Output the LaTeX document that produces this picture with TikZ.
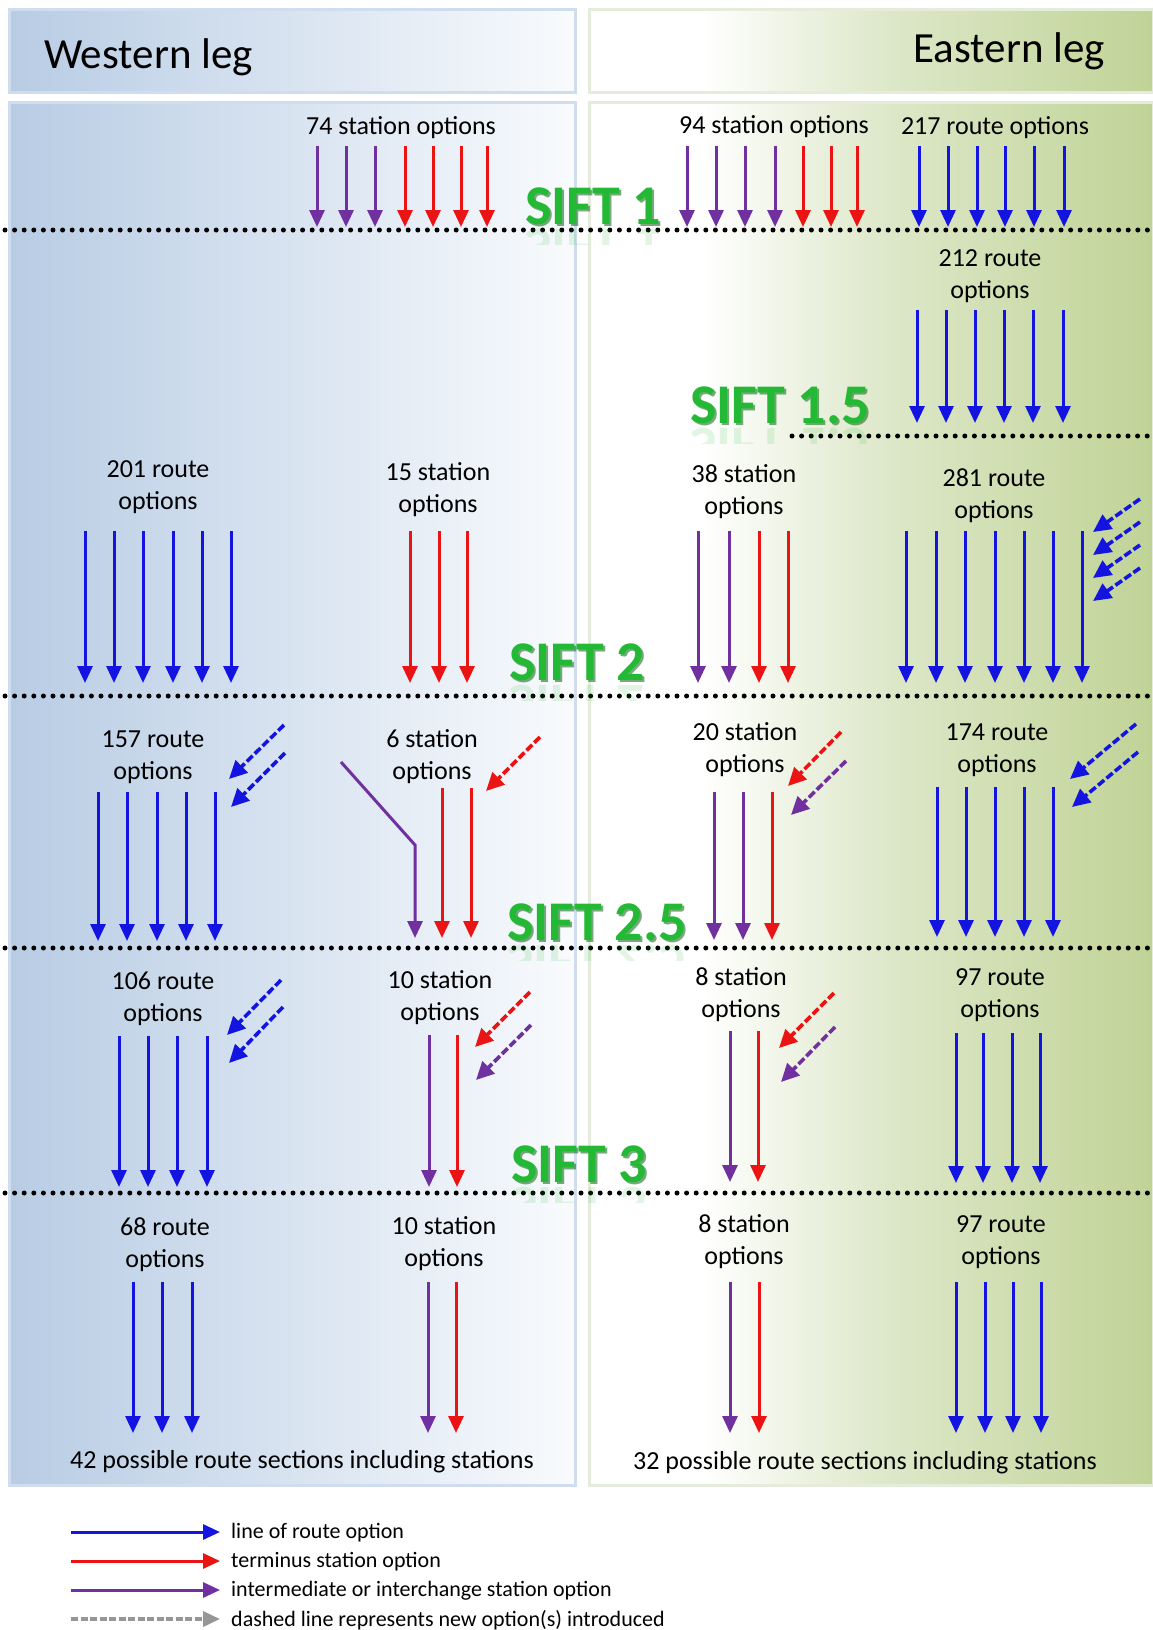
\documentclass[tikz,border=0pt]{standalone}
\usepackage{fontspec}
\setmainfont{Carlito}
\usetikzlibrary{arrows.meta}
\definecolor{rblue}{RGB}{20,20,225}
\definecolor{rred}{RGB}{235,20,20}
\definecolor{rpurple}{RGB}{112,48,160}
\definecolor{siftg}{RGB}{36,185,52}
\definecolor{siftd}{RGB}{10,100,20}
\definecolor{wblue}{RGB}{184,204,228}
\definecolor{wwhite}{RGB}{249,251,253}
\definecolor{egmid}{RGB}{222,232,202}
\definecolor{egright}{RGB}{192,211,150}
\definecolor{wborder}{RGB}{208,221,238}
\definecolor{eborder}{RGB}{230,236,220}
\definecolor{lgray}{RGB}{150,150,150}
\pgfdeclarehorizontalshading{eastsh}{100bp}{color(0bp)=(white); color(25bp)=(white); color(35bp)=(white); color(51bp)=(egmid); color(75bp)=(egright); color(100bp)=(egright)}
\newcommand\siftlbl[4]{%
  \node[sift, text=siftd, opacity=0.55] at (#2+2,#3+2) {#4};
  \node[sift] (#1) at (#2,#3) {#4};
  \begin{scope}
    \clip (#2-5,#3+3) rectangle (#2+220,#3+20);
    \begin{scope}[shift={(#2,#3+5)}]
      \node[sift, yscale=-1, transform shape, opacity=0.13] at (0,0) {#4};
    \end{scope}
  \end{scope}}
\begin{document}
\begin{tikzpicture}[x=1pt,y=-1pt,
  arr/.style={line width=3pt,-{Triangle[width=15pt,length=17pt]}},
  barr/.style={arr,draw=rblue},
  rarr/.style={arr,draw=rred},
  parr/.style={arr,draw=rpurple},
  darr/.style={line width=3.6pt,dash pattern=on 8pt off 3pt,-{Triangle[width=17pt,length=18pt]}},
  dbarr/.style={darr,draw=rblue},
  drarr/.style={darr,draw=rred},
  dparr/.style={darr,draw=rpurple},
  lbl/.style={font=\fontsize{26}{32}\selectfont,align=center,inner sep=0pt},
  leg/.style={font=\fontsize{22}{26}\selectfont,anchor=west,inner sep=0pt},
  hdr/.style={font=\fontsize{43}{50}\selectfont,inner sep=0pt},
  sift/.style={font=\bfseries\fontsize{56}{60}\selectfont,text=siftg,anchor=base west,inner sep=0pt},
  dots/.style={line width=5pt,dash pattern=on 0pt off 9.6pt,line cap=round}]
\useasboundingbox (0,0) rectangle (1152,1630);
\fill[white] (0,0) rectangle (1152,1630);
% panels
\draw[draw=wborder,line width=3pt,left color=wblue,right color=wwhite] (9,9) rectangle (575,92);
\draw[draw=eborder,line width=3pt,shading=eastsh] (589,9) rectangle (1153,92);
\draw[draw=wborder,line width=3pt,left color=wblue,right color=wwhite] (9,102) rectangle (575,1485);
\draw[draw=eborder,line width=3pt,shading=eastsh] (589,102) rectangle (1153,1485);
% headers
\node[hdr,anchor=base west] (west) at (44,68) {Western leg};
\node[hdr,anchor=base east] (east) at (1105,62) {Eastern leg};
% dotted lines
\draw[dots] (5,230) -- (1152,230);
\draw[dots] (792,436) -- (1152,436);
\draw[dots] (5,696) -- (1152,696);
\draw[dots] (5,948) -- (1152,948);
\draw[dots] (5,1193) -- (1152,1193);
% sift labels
\siftlbl{s1}{525}{224}{SIFT 1}
\siftlbl{s15}{690}{423}{SIFT 1.5}
\siftlbl{s2}{509}{680}{SIFT 2}
\siftlbl{s25}{507}{940}{SIFT 2.5}
\siftlbl{s3}{511}{1182}{SIFT 3}
% row 1
\node[lbl] (l74) at (401,128) {74 station options};
\node[lbl] (l94) at (774,127) {94 station options};
\node[lbl] (l217) at (995,128) {217 route options};
\foreach \x in {317,346,375} \draw[parr] (\x,146) -- (\x,227);
\foreach \x in {405,433,461,487} \draw[rarr] (\x,146) -- (\x,227);
\foreach \x in {687,716,745,775} \draw[parr] (\x,146) -- (\x,227);
\foreach \x in {803,831,857} \draw[rarr] (\x,146) -- (\x,227);
\foreach \x in {919,948,977,1005,1034,1064} \draw[barr] (\x,146) -- (\x,227);
% row 1.5
\node[lbl] (l212) at (990,276) {212 route\\options};
\foreach \x in {917,946,975,1004,1033,1063} \draw[barr] (\x,310) -- (\x,423);
% row 2
\node[lbl] (l201) at (158,487) {201 route\\options};
\node[lbl] (l15) at (438,490) {15 station\\options};
\node[lbl] (l38) at (744,492) {38 station\\options};
\node[lbl] (l281) at (994,496) {281 route\\options};
\foreach \x in {85,114,143,173,202,231} \draw[barr] (\x,531) -- (\x,683);
\foreach \x in {410,439,467} \draw[rarr] (\x,531) -- (\x,683);
\foreach \x in {698,729} \draw[parr] (\x,531) -- (\x,683);
\foreach \x in {759,788} \draw[rarr] (\x,531) -- (\x,683);
\foreach \x in {906,936,965,995,1024,1053,1082} \draw[barr] (\x,531) -- (\x,683);
\foreach \y in {499,522,545,568} \draw[dbarr] (1140,\y) -- (1093,\y+33);
% row 2.5
\node[lbl] (l157) at (153,757) {157 route\\options};
\node[lbl] (l6) at (432,757) {6 station\\options};
\node[lbl] (l20) at (745,750) {20 station\\options};
\node[lbl] (l174) at (997,750) {174 route\\options};
\foreach \x in {98,127,157,186,215} \draw[barr] (\x,792) -- (\x,941);
\draw[dbarr] (284,725) -- (229,779);
\draw[dbarr] (285,753) -- (231,807);
\draw[parr] (341,762) -- (415,845) -- (415,938);
\foreach \x in {442,471} \draw[rarr] (\x,788) -- (\x,938);
\draw[drarr] (540,737) -- (486,791);
\foreach \x in {714,743} \draw[parr] (\x,792) -- (\x,940);
\draw[rarr] (772,792) -- (772,940);
\draw[drarr] (841,732) -- (788,786);
\draw[dparr] (846,761) -- (791,815);
\foreach \x in {937,966,995,1024,1053} \draw[barr] (\x,787) -- (\x,937);
\draw[dbarr] (1136,724) -- (1070,779);
\draw[dbarr] (1138,752) -- (1072,807);
% row 3
\node[lbl] (l106) at (163,999) {106 route\\options};
\node[lbl] (l10a) at (440,998) {10 station\\options};
\node[lbl] (l8a) at (741,995) {8 station\\options};
\node[lbl] (l97a) at (1000,995) {97 route\\options};
\foreach \x in {119,148,177,207} \draw[barr] (\x,1036) -- (\x,1187);
\draw[dbarr] (281,980) -- (227,1035);
\draw[dbarr] (283,1007) -- (229,1063);
\draw[parr] (429,1035) -- (429,1187);
\draw[rarr] (457,1035) -- (457,1187);
\draw[drarr] (530,992) -- (475,1047);
\draw[dparr] (531,1025) -- (476,1080);
\draw[parr] (730,1031) -- (730,1182);
\draw[rarr] (758,1031) -- (758,1182);
\draw[drarr] (834,993) -- (779,1048);
\draw[dparr] (835,1027) -- (781,1082);
\foreach \x in {956,983,1012,1040} \draw[barr] (\x,1033) -- (\x,1183);
% row 4
\node[lbl] (l68) at (165,1245) {68 route\\options};
\node[lbl] (l10b) at (444,1244) {10 station\\options};
\node[lbl] (l8b) at (744,1242) {8 station\\options};
\node[lbl] (l97b) at (1001,1242) {97 route\\options};
\foreach \x in {133,162,192} \draw[barr] (\x,1282) -- (\x,1433);
\draw[parr] (428,1282) -- (428,1433);
\draw[rarr] (456,1282) -- (456,1433);
\draw[parr] (730,1282) -- (730,1433);
\draw[rarr] (759,1282) -- (759,1433);
\foreach \x in {956,985,1013,1041} \draw[barr] (\x,1282) -- (\x,1433);
% bottom totals
\node[lbl] (tw) at (302,1462) {42 possible route sections including stations};
\node[lbl] (te) at (865,1463) {32 possible route sections including stations};
% legend
\coordinate (a1) at (71,1532); \coordinate (b1) at (220,1532);
\coordinate (a2) at (71,1561); \coordinate (b2) at (220,1561);
\coordinate (a3) at (71,1590); \coordinate (b3) at (220,1590);
\coordinate (a4) at (71,1619); \coordinate (b4) at (220,1619);
\draw[barr] (a1) -- (b1);
\draw[rarr] (a2) -- (b2);
\draw[parr] (a3) -- (b3);
\draw[line width=3.6pt,draw=lgray,dash pattern=on 7pt off 2.5pt,-{Triangle[width=15pt,length=17pt]}] (a4) -- (b4);
\node[leg] (g1) at (231,1533) {line of route option};
\node[leg] (g2) at (231,1562) {terminus station option};
\node[leg] (g3) at (231,1591) {intermediate or interchange station option};
\node[leg] (g4) at (231,1620) {dashed line represents new option(s) introduced};
\end{tikzpicture}
\end{document}
